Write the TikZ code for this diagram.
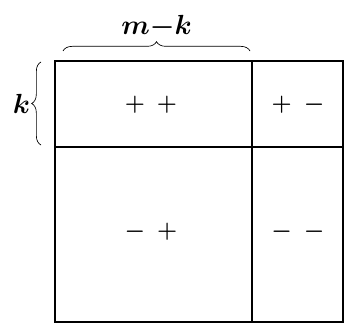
\documentclass[tikz,border=0pt]{standalone}
\usepackage{amsmath,amssymb}
\usepackage{tikz}
\usetikzlibrary{decorations.pathreplacing}

\begin{document}
\begin{tikzpicture}[x=0.75pt,y=-0.75pt]
	\tikzset{
		signs/.style={font=\LARGE\boldmath, inner sep=1pt},
		bracelabel/.style={font=\huge\boldmath, inner sep=1pt},
		curly/.style={decorate, decoration={brace, amplitude=7pt}, line width=0.5pt}
	}
	\useasboundingbox (0,0) rectangle (345,324);
	% corners of the block matrix
	\coordinate (nw) at (55,61);
	\coordinate (se) at (343,322);
	\coordinate (mid) at (252,147);
	\draw [line width=1.1pt] (nw) rectangle (se);
	\draw [line width=2pt] (55,322) -- (nw) -- (343,61);
	\draw [line width=1.1pt] (mid |- nw) -- (mid |- se);
	\draw [line width=1.1pt] (mid -| nw) -- (mid -| se);
	% signs in the four blocks
	\foreach \cell/\px/\py/\sa/\sb in {pp/151/105/+/+, pm/298/105/+/-, mp/151/232/-/+, mm/298/232/-/-}
	{
		\node [signs] (\cell) at (\px,\py) {$\sa$\hspace{9pt}$\sb$};
	}
	% braces
	\coordinate (tl) at (63,51);
	\coordinate (tr) at (250,51);
	\draw [curly] (tl) -- node [bracelabel, above=8pt] (mk) {$m{-}k$} (tr);
	\coordinate (lb) at (41,145);
	\coordinate (lt) at (41,62);
	\draw [curly] (lb) -- node [bracelabel, left=7pt] (kk) {$k$} (lt);
\end{tikzpicture}
\end{document}
